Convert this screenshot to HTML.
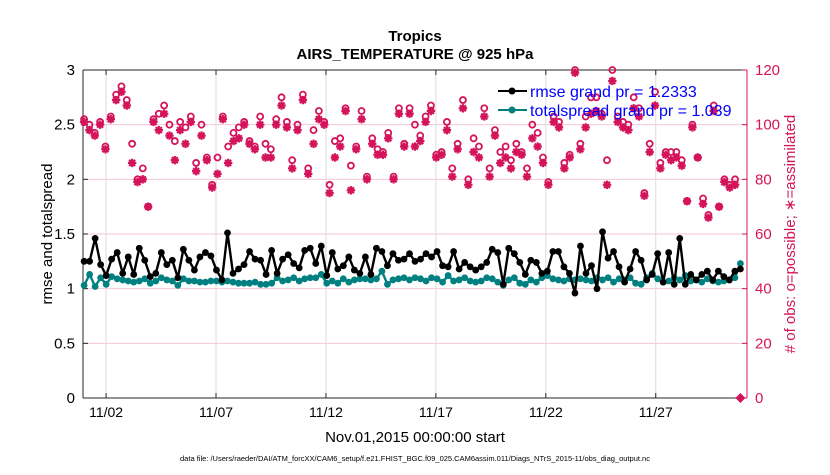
<!DOCTYPE html>
<html><head><meta charset="utf-8"><style>
body{margin:0;background:#fff;font-family:"Liberation Sans",sans-serif}
svg text{font-family:"Liberation Sans",sans-serif}
</style></head><body>
<svg id="c" width="830" height="470" xmlns="http://www.w3.org/2000/svg">
<text x="415" y="41" text-anchor="middle" font-size="15" font-weight="bold">Tropics</text>
<text x="415" y="59" text-anchor="middle" font-size="15" font-weight="bold">AIRS_TEMPERATURE @ 925 hPa</text>
<g id="grid"></g><g id="axes"></g><g id="marks"></g>
<text transform="translate(52,234) rotate(-90)" text-anchor="middle" font-size="15">rmse and totalspread</text>
<text transform="translate(795,234) rotate(-90)" text-anchor="middle" font-size="15" fill="#d4145a"># of obs: o=possible; ∗=assimilated</text>
<text x="415" y="442" text-anchor="middle" font-size="15">Nov.01,2015 00:00:00 start</text>
<text x="415" y="461" text-anchor="middle" font-size="7.5">data file: /Users/raeder/DAI/ATM_forcXX/CAM6_setup/f.e21.FHIST_BGC.f09_025.CAM6assim.011/Diags_NTrS_2015-11/obs_diag_output.nc</text>
<g id="marksTop"></g>
<g>
<line x1="498" y1="91" x2="527" y2="91" stroke="#000" stroke-width="2"/><circle cx="512" cy="91" r="3.5" fill="#000"/>
<text x="530" y="97" font-size="16" fill="#0000ff">rmse grand pr = 1.2333</text>
<line x1="498" y1="110" x2="527" y2="110" stroke="#008080" stroke-width="2"/><circle cx="512" cy="110" r="3.5" fill="#008080"/>
<text x="530" y="116" font-size="16" fill="#0000ff">totalspread grand pr = 1.039</text>
</g>
</svg>
<script>
const rmse=[1.25,1.25,1.46,1.22,1.12,1.27,1.33,1.14,1.29,1.13,1.37,1.26,1.11,1.14,1.33,1.22,1.26,1.10,1.36,1.26,1.17,1.29,1.33,1.30,1.17,1.08,1.51,1.14,1.18,1.22,1.34,1.27,1.26,1.13,1.35,1.14,1.27,1.31,1.23,1.19,1.35,1.37,1.23,1.39,1.12,1.33,1.18,1.21,1.29,1.17,1.14,1.29,1.13,1.37,1.34,1.21,1.32,1.26,1.27,1.32,1.25,1.27,1.32,1.29,1.34,1.21,1.20,1.34,1.18,1.24,1.20,1.17,1.20,1.24,1.36,1.33,1.04,1.37,1.32,1.24,1.13,1.26,1.24,1.14,1.16,1.34,1.34,1.20,1.14,0.96,1.39,1.14,1.21,1.00,1.52,1.28,1.34,1.20,1.06,1.18,1.34,1.26,1.08,1.13,1.32,1.06,1.33,1.04,1.46,1.04,1.13,1.08,1.13,1.16,1.08,1.16,1.11,1.08,1.16,1.18];
const spread=[1.03,1.13,1.02,1.10,1.04,1.11,1.09,1.08,1.07,1.06,1.07,1.09,1.05,1.07,1.10,1.08,1.07,1.03,1.09,1.07,1.07,1.06,1.06,1.07,1.07,1.06,1.07,1.06,1.05,1.05,1.05,1.06,1.04,1.04,1.05,1.10,1.07,1.08,1.10,1.07,1.09,1.10,1.10,1.13,1.05,1.07,1.05,1.09,1.06,1.08,1.09,1.09,1.08,1.09,1.16,1.04,1.08,1.09,1.10,1.08,1.10,1.09,1.07,1.10,1.09,1.06,1.12,1.07,1.08,1.10,1.07,1.06,1.07,1.10,1.09,1.06,1.03,1.08,1.10,1.05,1.04,1.08,1.06,1.10,1.12,1.09,1.08,1.07,1.09,1.08,1.09,1.08,1.07,1.10,1.08,1.10,1.06,1.09,1.08,1.10,1.05,1.04,1.10,1.14,1.09,1.06,1.07,1.10,1.08,1.12,1.07,1.08,1.06,1.09,1.07,1.06,1.07,1.08,1.10,1.23];
const assim=[101,98,96,100,91,102,109,112,107,86,79,80,70,101,98,104,96,87,98,93,101,83,96,87,77,82,102,86,94,95,100,93,91,100,88,88,100,107,99,84,98,109,82,93,102,100,75,88,92,105,76,91,102,80,93,89,89,95,80,104,92,104,92,94,101,105,88,89,98,81,91,106,78,90,88,103,81,96,86,88,84,90,89,81,95,92,86,78,101,99,84,88,119,91,99,104,105,103,78,116,101,99,98,106,103,74,90,107,84,89,87,88,85,72,99,88,71,66,105,70,79,77,78,0];
const possible=[102,100,97,101,92,103,111,114,109,93,80,84,70,102,104,107,100,94,101,99,103,86,100,88,78,88,103,92,97,99,101,94,92,103,93,91,102,110,101,87,100,111,84,98,105,101,78,94,95,106,85,92,105,81,95,91,90,97,81,106,93,106,100,96,103,107,89,90,101,84,93,109,80,95,92,106,84,98,90,92,87,93,90,84,100,97,88,79,103,101,86,89,120,93,103,110,110,104,87,120,103,101,100,110,106,75,93,112,86,90,90,90,87,72,100,88,73,67,107,70,80,78,80,0];
const xTicks=[1,6,11,16,21,26];
const xTickLabels=["11/02","11/07","11/12","11/17","11/22","11/27"];
const yTicksL=[0,0.5,1,1.5,2,2.5,3];
const yTicksR=[0,20,40,60,80,100,120];

const NS="http://www.w3.org/2000/svg";
const L=83,R=747,T=70,B=398;
const dayMax=30.15;
const xs=d=>L+(d+0.05)/(dayMax+0.05)*(R-L);
const yl=v=>B-v/3*(B-T);
const yr=v=>B-v/120*(B-T);
function mk(tag,attrs,parent){const e=document.createElementNS(NS,tag);for(const k in attrs)e.setAttribute(k,attrs[k]);parent.appendChild(e);return e;}
const grid=document.getElementById('grid'),axes=document.getElementById('axes'),marks=document.getElementById('marks'),marksTop=document.getElementById('marksTop');
const dayOf=(i,n)=>i*(29.85/(n-1));

yTicksR.forEach(v=>{if(v>0&&v<120){const g=mk('line',{x1:L,x2:R,y1:yr(v),y2:yr(v),stroke:'#f5c6d6','stroke-width':1},grid);

}});
xTicks.forEach((d,i)=>{const g=mk('line',{x1:xs(d),x2:xs(d),y1:T,y2:B,stroke:'#dcdcdc','stroke-width':1},grid);


const t=mk('text',{x:xs(d),y:B+19,'text-anchor':'middle','font-size':14},axes);t.textContent=xTickLabels[i];


mk('line',{x1:xs(d),x2:xs(d),y1:B,y2:B-5,stroke:'#262626'},axes);mk('line',{x1:xs(d),x2:xs(d),y1:T,y2:T+5,stroke:'#262626'},axes);});
mk('line',{x1:L,x2:R,y1:B,y2:B,stroke:'#262626'},axes);
mk('line',{x1:L,x2:R,y1:T,y2:T,stroke:'#262626'},axes);
mk('line',{x1:L,x2:L,y1:T,y2:B,stroke:'#262626'},axes);
mk('line',{x1:R,x2:R,y1:T,y2:B,stroke:'#d4145a'},axes);
yTicksL.forEach(v=>{const t=mk('text',{x:L-8,y:yl(v)+5,'text-anchor':'end','font-size':15},axes);t.textContent=String(v);


mk('line',{x1:L,x2:L+5,y1:yl(v),y2:yl(v),stroke:'#262626'},axes);});
yTicksR.forEach(v=>{const t=mk('text',{x:R+8,y:yr(v)+5,'font-size':15,fill:'#d4145a'},axes);t.textContent=String(v);


mk('line',{x1:R-5,x2:R,y1:yr(v),y2:yr(v),stroke:'#d4145a'},axes);});

const pink='#d4145a';
possible.forEach((v,i)=>{const x=xs(dayOf(i,possible.length)),y=yr(v);
if(v===0){const d=mk('path',{d:`M${x-5},${y}L${x},${y-5}L${x+5},${y}L${x},${y+5}Z`,fill:pink},marksTop);

return;}
const c=mk('circle',{cx:x,cy:y,r:3,fill:'none',stroke:pink,'stroke-width':1.8},marks);

});
assim.forEach((v,i)=>{if(v===0)return;const x=xs(dayOf(i,assim.length)),y=yr(v),s=4.2,q=3;
const p=mk('path',{d:`M${x-s},${y}H${x+s}M${x},${y-s}V${y+s}M${x-q},${y-q}L${x+q},${y+q}M${x-q},${y+q}L${x+q},${y-q}`,stroke:pink,'stroke-width':2.2},marks);

});

function series(arr,color,name){
const pts=arr.map((v,i)=>[xs(dayOf(i,arr.length)),yl(v)]);
const pl=mk('polyline',{points:pts.map(p=>p.join(',')).join(' '),fill:'none',stroke:color,'stroke-width':2.4,'stroke-linejoin':'round'},marks);


pts.forEach(p=>{const c=mk('circle',{cx:p[0],cy:p[1],r:3.4,fill:color},marks);

});}
series(spread,'#008080','totalspread');
series(rmse,'#000000','rmse');
</script>
</body></html>
